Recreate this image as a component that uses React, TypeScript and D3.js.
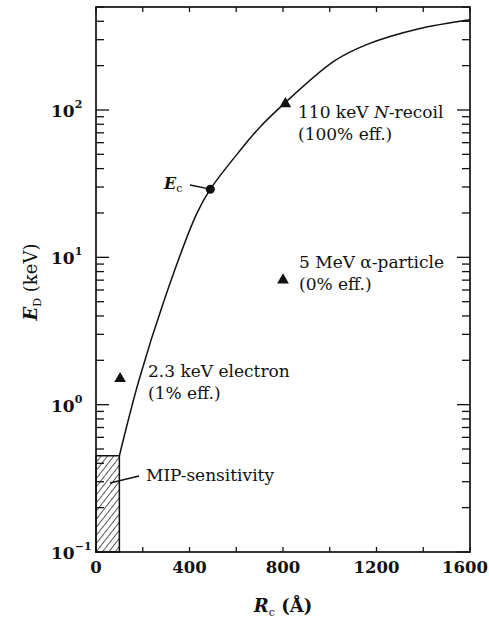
import React from 'react';
import * as d3 from 'd3';

const W = 489;
const H = 621;
const margin = { top: 7, right: 19, bottom: 69, left: 96 };

// R_c (Å) vs E_D (keV) curve
const curveR = [100, 184, 292, 429, 489, 618, 703, 790, 1017, 1163, 1377, 1600];
const curveE = [0.45, 1.47, 5.14, 19.5, 29, 53.5, 77, 105, 214, 280, 355, 410];

// triangle markers: electron, N-recoil, alpha
const triR = [103, 810, 800];
const triE = [1.5, 110, 7.0];

const ecR = 489;
const ecE = 29;

// MIP-sensitivity box
const mipR = [0, 100];
const mipE = [0.1, 0.45];

const xTicks = [0, 400, 800, 1200, 1600];
const xMinorTicks = [0, 200, 400, 600, 800, 1000, 1200, 1400, 1600];
const yDecades = [0.1, 1, 10, 100];
const yDecadeExp = ['\u22121', '0', '1', '2'];

const serif = '"DejaVu Serif", "Liberation Serif", serif';

export default function App() {
  const x = d3.scaleLinear().domain([0, 1600]).range([margin.left, W - margin.right]);
  const y = d3.scaleLog().domain([0.1, 500]).range([H - margin.bottom, margin.top]);

  const x0 = x.range()[0];
  const x1 = x.range()[1];
  const y0 = y.range()[0];
  const y1 = y.range()[1];

  const minor: number[] = [];
  yDecades.forEach(d => {
    for (let k = 2; k <= 9; k++) {
      const v = d * k;
      if (v <= 500) minor.push(v);
    }
  });

  const line = d3.line<number>()
    .x((_, i) => x(curveR[i]))
    .y((_, i) => y(curveE[i]))
    .curve(d3.curveCatmullRom.alpha(0.5));

  const tri = d3.symbol().type(d3.symbolTriangle).size(60)();

  const annot = { fontFamily: serif, fontSize: 17, fill: '#111' };

  return (
    <svg width={W} height={H} style={{ position: 'absolute', left: 0, top: 0, background: '#fff' }}>
      <defs>
        <pattern id="hatch" patternUnits="userSpaceOnUse" width="5" height="5" patternTransform="rotate(38)">
          <line x1="0" y1="0" x2="0" y2="5" stroke="#111" strokeWidth="1.4" />
        </pattern>
      </defs>

      {/* MIP box */}
      <rect x={x(mipR[0])} y={y(mipE[1])} width={x(mipR[1]) - x(mipR[0])} height={y(mipE[0]) - y(mipE[1])}
        fill="url(#hatch)" stroke="#111" strokeWidth={1.5} />

      {/* frame */}
      <rect x={x0} y={y1} width={x1 - x0} height={y0 - y1} fill="none" stroke="#111" strokeWidth={1.7} />

      {/* x ticks, bottom and top */}
      {xMinorTicks.map(t => (
        <g key={'xt' + t}>
          <line x1={x(t)} x2={x(t)} y1={y0} y2={y0 - 5} stroke="#111" strokeWidth={1.3} />
          <line x1={x(t)} x2={x(t)} y1={y1} y2={y1 + 5} stroke="#111" strokeWidth={1.3} />
        </g>
      ))}
      {xTicks.map((t, i) => {
        const last = i === xTicks.length - 1;
        return (
          <text key={'xl' + t} x={last ? W - 1 : x(t)} y={573} textAnchor={last ? 'end' : 'middle'}
            fontFamily={serif} fontWeight="bold" fontSize={16.5} fill="#111">{t}</text>
        );
      })}

      {/* y ticks, left and right */}
      {yDecades.map(d => (
        <g key={'yd' + d}>
          <line x1={x0} x2={x0 + 13} y1={y(d)} y2={y(d)} stroke="#111" strokeWidth={1.3} />
          <line x1={x1} x2={x1 - 13} y1={y(d)} y2={y(d)} stroke="#111" strokeWidth={1.3} />
        </g>
      ))}
      {minor.map(d => (
        <g key={'ym' + d}>
          <line x1={x0} x2={x0 + 8} y1={y(d)} y2={y(d)} stroke="#111" strokeWidth={1.3} />
          <line x1={x1} x2={x1 - 8} y1={y(d)} y2={y(d)} stroke="#111" strokeWidth={1.3} />
        </g>
      ))}
      {yDecades.map((d, i) => (
        <text key={'yl' + d} x={51} y={y(d) + 7} fontFamily={serif} fontWeight="bold" fontSize={17} fill="#111">
          10<tspan dy={-9} fontSize={11}>{yDecadeExp[i]}</tspan>
        </text>
      ))}

      {/* axis titles */}
      <text x={283} y={612} textAnchor="middle" fontFamily={serif} fontSize={18} fill="#111">
        <tspan fontStyle="italic" fontWeight="bold">R</tspan>
        <tspan fontSize={11} dy={4}>c</tspan>
        <tspan dy={-4} fontWeight="bold">{' (\u00C5)'}</tspan>
      </text>
      <text transform={`translate(37,${282}) rotate(-90)`} textAnchor="middle" fontFamily={serif} fontSize={18} fill="#111">
        <tspan fontStyle="italic" fontWeight="bold">E</tspan>
        <tspan fontSize={11} dy={4}>D</tspan>
        <tspan dy={-4}>{' (keV)'}</tspan>
      </text>

      {/* curve */}
      <path d={line(curveR) || ''} fill="none" stroke="#111" strokeWidth={1.5} />

      {/* markers */}
      {triR.map((r, i) => (
        <path key={'tri' + i} d={tri || ''} transform={`translate(${x(r)},${y(triE[i])})`} fill="#111" />
      ))}
      <circle cx={x(ecR)} cy={y(ecE)} r={4.5} fill="#111" />

      {/* annotations */}
      <line x1={190} y1={185} x2={x(ecR)} y2={y(ecE)} stroke="#111" strokeWidth={1.3} />
      <text x={164} y={189} fontFamily={serif} fontSize={16} fill="#111">
        <tspan fontStyle="italic" fontWeight="bold">E</tspan>
        <tspan fontSize={11} dy={3}>c</tspan>
      </text>

      <text x={298} y={118} {...annot}>110 keV <tspan fontStyle="italic">N</tspan>-recoil</text>
      <text x={298} y={140} {...annot}>(100% eff.)</text>

      <text x={299} y={268} {...annot}>5 MeV α-particle</text>
      <text x={299} y={290} {...annot}>(0% eff.)</text>

      <text x={148} y={377} {...annot}>2.3 keV electron</text>
      <text x={148} y={399} {...annot}>(1% eff.)</text>

      <line x1={139} y1={476} x2={110} y2={483} stroke="#111" strokeWidth={1.3} />
      <text x={146} y={481} {...annot}>MIP-sensitivity</text>
    </svg>
  );
}
